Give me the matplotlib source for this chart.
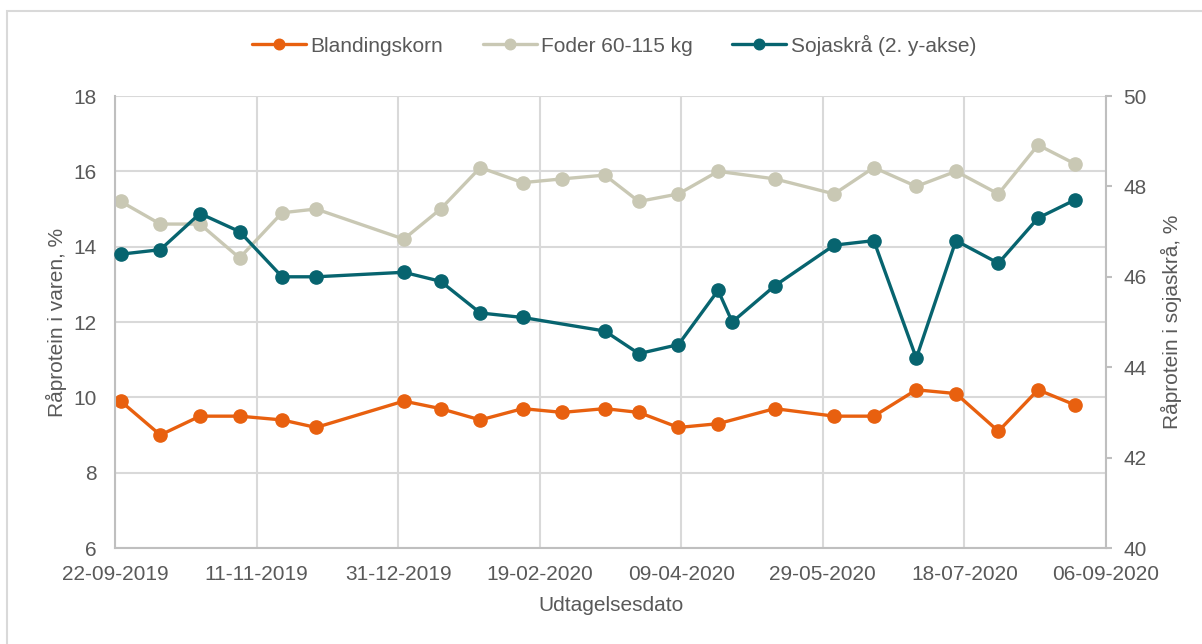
import matplotlib
matplotlib.use("Agg")
import matplotlib.pyplot as plt
import matplotlib.dates as mdates
from matplotlib.patches import Rectangle
import numpy as np
import pandas as pd

plt.rcParams['font.family'] = ['Liberation Sans', 'DejaVu Sans']

dates = ["2019-09-24", "2019-10-08", "2019-10-22", "2019-11-05", "2019-11-20", "2019-12-02",
         "2020-01-02", "2020-01-15", "2020-01-29", "2020-02-13", "2020-02-27", "2020-03-13",
         "2020-03-25", "2020-04-08", "2020-04-22", "2020-04-27", "2020-05-12", "2020-06-02",
         "2020-06-16", "2020-07-01", "2020-07-15", "2020-07-30", "2020-08-13", "2020-08-26"]
nan = np.nan
blandingskorn = [9.9, 9.0, 9.5, 9.5, 9.4, 9.2, 9.9, 9.7, 9.4, 9.7, 9.6, 9.7,
                 9.6, 9.2, 9.3, nan, 9.7, 9.5, 9.5, 10.2, 10.1, 9.1, 10.2, 9.8]
foder = [15.2, 14.6, 14.6, 13.7, 14.9, 15.0, 14.2, 15.0, 16.1, 15.7, 15.8, 15.9,
         15.2, 15.4, 16.0, nan, 15.8, 15.4, 16.1, 15.6, 16.0, 15.4, 16.7, 16.2]
sojaskraa = [46.5, 46.6, 47.4, 47.0, 46.0, 46.0, 46.1, 45.9, 45.2, 45.1, nan, 44.8,
             44.3, 44.5, 45.7, 45.0, 45.8, 46.7, 46.8, 44.2, 46.8, 46.3, 47.3, 47.7]
labels = ["Blandingskorn", "Foder 60-115 kg", "Sojaskrå (2. y-akse)"]

x_start, x_end = "2019-09-22", "2020-09-06"
left_ticks = [6, 8, 10, 12, 14, 16, 18]
right_ticks = [40, 42, 44, 46, 48, 50]

C_OR = "#E8600F"
C_GR = "#C9C8B4"
C_TE = "#07646F"
TXT = "#595959"
AX = "#BFBFBF"
GRID = "#D9D9D9"

W, H = 1202, 644
fig = plt.figure(figsize=(W / 100, H / 100), dpi=100)
fig.patch.set_facecolor("white")
fig.patches.append(Rectangle((7 / W, -0.1), 1.2, 1 - 11 / H + 0.1, transform=fig.transFigure,
                             fill=False, edgecolor=GRID, lw=1.5, zorder=0))

ax = fig.add_axes([115 / W, 1 - 548 / H, (1106 - 115) / W, (548 - 96) / H])
ax2 = ax.twinx()

d = pd.to_datetime(dates)

def plot_series(a, vals, color, label):
    v = np.array(vals, dtype=float)
    m = ~np.isnan(v)
    return a.plot(d[m], v[m], color=color, lw=2.4, marker="o", markersize=9.5,
                  label=label, solid_capstyle="round", clip_on=False)[0]

l1 = plot_series(ax, blandingskorn, C_OR, labels[0])
l2 = plot_series(ax, foder, C_GR, labels[1])
l3 = plot_series(ax2, sojaskraa, C_TE, labels[2])

xs, xe = pd.Timestamp(x_start), pd.Timestamp(x_end)
ax.set_xlim(xs, xe)
xt = pd.date_range(xs, xe, freq="50D")
ax.set_xticks(xt)
ax.xaxis.set_major_formatter(mdates.DateFormatter("%d-%m-%Y"))
ax.set_ylim(6, 18)
ax.set_yticks(left_ticks)
ax2.set_ylim(40, 50)
ax2.set_yticks(right_ticks)

ax.grid(True, color=GRID, lw=1.5)
ax.set_axisbelow(True)
ax.spines["top"].set_visible(False)
ax.spines["right"].set_visible(False)
for s in ["top", "bottom", "left"]:
    ax2.spines[s].set_visible(False)
for s in ["left", "bottom"]:
    ax.spines[s].set_color(AX)
    ax.spines[s].set_linewidth(1.5)
ax2.spines["right"].set_color(AX)
ax2.spines["right"].set_linewidth(1.5)

ax.tick_params(axis="x", length=0, pad=12, labelsize=15, labelcolor=TXT)
ax.tick_params(axis="y", length=0, pad=13, labelsize=15, labelcolor=TXT)
ax2.tick_params(axis="y", length=4.5, width=1.5, color=AX, pad=8, labelsize=15, labelcolor=TXT)

ax.set_xlabel("Udtagelsesdato", fontsize=15, color=TXT, labelpad=9)
ax.set_ylabel("Råprotein i varen, %", fontsize=15, color=TXT, labelpad=5)
ax2.set_ylabel("Råprotein i sojaskrå, %", fontsize=15, color=TXT, labelpad=10)

fig.legend([l1, l2, l3], labels, loc="center", bbox_to_anchor=(614 / W, 1 - 45 / H), ncol=3,
           frameon=False, fontsize=15, labelcolor=TXT, handlelength=2.6, handletextpad=0.2,
           columnspacing=1.9, markerscale=0.8)

fig.savefig("out.png", dpi=100, facecolor="white")
